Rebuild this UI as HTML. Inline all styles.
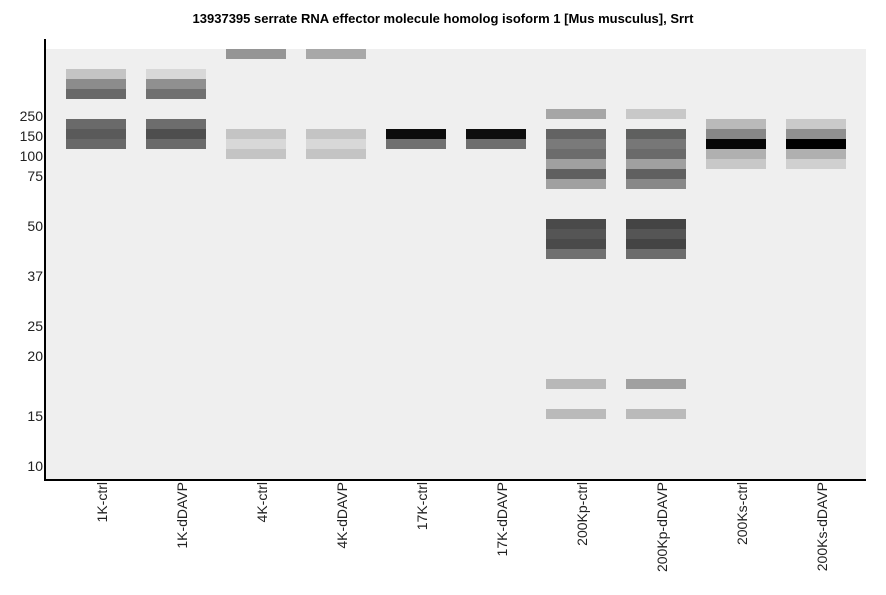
<!DOCTYPE html>
<html><head><style>
body{margin:0;width:886px;height:595px;background:#fff;position:relative;font-family:"Liberation Sans",sans-serif;overflow:hidden}
.t{position:absolute;left:0;width:886px;top:11px;text-align:center;font-weight:bold;font-size:13px}
.plot{position:absolute;left:45px;top:49px;width:821px;height:431px;background:#efefef}
.ax{position:absolute;background:#000}
.b{position:absolute;width:60px;height:10px}
.yl{position:absolute;right:843px;font-size:14px;line-height:13px;color:#222}
.xl{position:absolute;top:482px;font-size:14px;line-height:14px;color:#222;writing-mode:vertical-rl;transform:rotate(180deg);white-space:nowrap}
</style></head><body>
<div class="t">13937395 serrate RNA effector molecule homolog isoform 1 [Mus musculus], Srrt</div>
<div class="plot"></div>
<div class="ax" style="left:44px;top:39px;width:2px;height:442px"></div>
<div class="ax" style="left:44px;top:479px;width:822px;height:2px"></div>
<div id="bands"></div>
<div class="yl" style="top:110px">250</div>
<div class="yl" style="top:130px">150</div>
<div class="yl" style="top:150px">100</div>
<div class="yl" style="top:170px">75</div>
<div class="yl" style="top:220px">50</div>
<div class="yl" style="top:270px">37</div>
<div class="yl" style="top:320px">25</div>
<div class="yl" style="top:350px">20</div>
<div class="yl" style="top:410px">15</div>
<div class="yl" style="top:460px">10</div>
<div class="xl" style="left:95px">1K-ctrl</div>
<div class="xl" style="left:175px">1K-dDAVP</div>
<div class="xl" style="left:255px">4K-ctrl</div>
<div class="xl" style="left:335px">4K-dDAVP</div>
<div class="xl" style="left:415px">17K-ctrl</div>
<div class="xl" style="left:495px">17K-dDAVP</div>
<div class="xl" style="left:575px">200Kp-ctrl</div>
<div class="xl" style="left:655px">200Kp-dDAVP</div>
<div class="xl" style="left:735px">200Ks-ctrl</div>
<div class="xl" style="left:815px">200Ks-dDAVP</div>
<script>
var L=[
[[69,'#c4c4c4'],[79,'#8c8c8c'],[89,'#686868'],[119,'#6a6a6a'],[129,'#5a5a5a'],[139,'#686868']],
[[69,'#d8d8d8'],[79,'#909090'],[89,'#707070'],[119,'#6d6d6d'],[129,'#4e4e4e'],[139,'#6a6a6a']],
[[49,'#959595'],[129,'#c4c4c4'],[139,'#d8d8d8'],[149,'#c4c4c4']],
[[49,'#a8a8a8'],[129,'#c4c4c4'],[139,'#d8d8d8'],[149,'#c4c4c4']],
[[129,'#0c0c0c'],[139,'#707070']],
[[129,'#0e0e0e'],[139,'#6e6e6e']],
[[109,'#a6a6a6'],[129,'#636363'],[139,'#7a7a7a'],[149,'#6c6c6c'],[159,'#a0a0a0'],[169,'#606060'],[179,'#a0a0a0'],[219,'#4a4a4a'],[229,'#555555'],[239,'#4a4a4a'],[249,'#707070'],[379,'#b8b8b8'],[409,'#bababa']],
[[109,'#c8c8c8'],[129,'#5f605f'],[139,'#777777'],[149,'#6a6a6a'],[159,'#a0a0a0'],[169,'#606060'],[179,'#888888'],[219,'#444444'],[229,'#555555'],[239,'#444444'],[249,'#6c6c6c'],[379,'#a0a0a0'],[409,'#bababa']],
[[119,'#bababa'],[129,'#878787'],[139,'#060606'],[149,'#b0b0b0'],[159,'#c8c8c8']],
[[119,'#cacaca'],[129,'#909090'],[139,'#000000'],[149,'#b0b0b0'],[159,'#d0d0d0']]
];
var h='';L.forEach(function(l,i){l.forEach(function(b){h+='<div class="b" style="left:'+(66+80*i)+'px;top:'+b[0]+'px;background:'+b[1]+'"></div>';});});
document.getElementById('bands').innerHTML=h;
</script>
</body></html>
